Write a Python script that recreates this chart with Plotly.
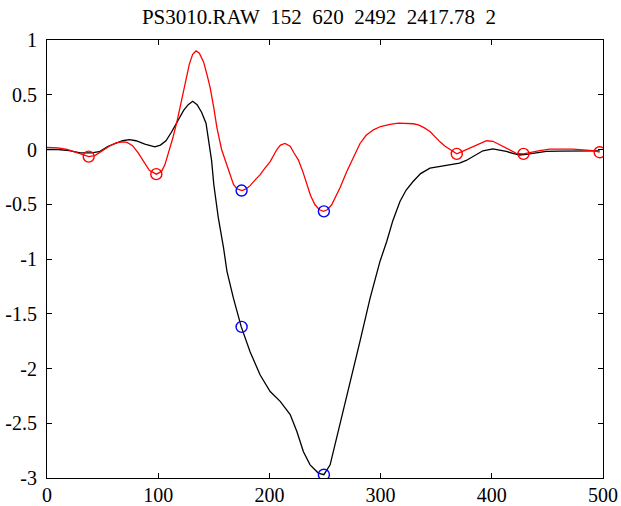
import plotly.graph_objects as go

# ---- data ----
black_x = [0, 10, 20, 30, 40, 47, 55, 62, 68, 74, 80, 88, 97, 102, 107, 112, 118, 123, 127, 131,
           135, 139, 143, 146, 148, 150, 154, 158.8, 161.8, 167.7, 174.7, 182.7, 191.7, 200.7,
           209.7, 218.7, 224.7, 230.6, 236.6, 244, 249, 254.6, 263.5, 272.5, 281.5, 290.5,
           299.5, 305.5, 311, 317.4, 323, 329.4, 336, 344.4, 353.4, 362, 371, 377, 383, 387,
           392, 401, 407, 413, 419, 425, 431, 437, 449, 461, 473, 485, 497]
black_y = [0, 0.0, -0.01, -0.03, -0.03, -0.02, 0.03, 0.06, 0.08, 0.09, 0.08, 0.05, 0.025, 0.04,
           0.08, 0.16, 0.27, 0.36, 0.41, 0.44, 0.41, 0.34, 0.24, 0.05, -0.10, -0.32, -0.62, -0.9,
           -1.11, -1.36, -1.62, -1.85, -2.06, -2.21, -2.30, -2.42, -2.575, -2.76, -2.88, -2.955,
           -2.97, -2.88, -2.51, -2.15, -1.75, -1.36, -1.02, -0.84, -0.65, -0.475, -0.37, -0.29,
           -0.22, -0.17, -0.155, -0.14, -0.125, -0.10, -0.064, -0.035, -0.012, 0.006, -0.005,
           -0.018, -0.035, -0.05, -0.045, -0.034, -0.018, -0.014, -0.012, -0.012, -0.012]

red_x = [0, 5, 10, 18, 25, 32, 37.5, 43, 50, 56, 62, 67.5, 72, 77, 82, 87, 92, 98.3, 103, 106,
         109.4, 113, 117, 121, 124.4, 128, 131, 134, 137, 140.8, 144, 146.8, 150, 152.8, 157,
         161.8, 167.7, 171, 175.3, 179, 182.7, 187, 191.7, 196, 200.7, 206.7, 210, 214, 218.7,
         222, 226, 230, 233.6, 237, 241, 245, 248.6, 252, 256, 259, 263.5, 269.6, 272.5, 277,
         281.5, 287, 293.5, 300, 308.5, 316, 323.5, 329.4, 334, 339, 344.4, 349, 353.4, 358,
         364, 368.5, 373, 377.3, 386, 395.3, 401, 407, 413, 418, 422, 428.5, 435, 443, 452,
         465, 473, 485, 491, 497]
red_y = [0.02, 0.02, 0.015, 0.0, -0.025, -0.05, -0.065, -0.055, -0.01, 0.03, 0.06, 0.07, 0.065,
         0.035, -0.03, -0.11, -0.19, -0.225, -0.2, -0.14, -0.03, 0.1, 0.26, 0.45, 0.62, 0.78,
         0.87, 0.9, 0.88, 0.80, 0.68, 0.56, 0.38, 0.2, 0.0, -0.14, -0.32, -0.36, -0.375, -0.36,
         -0.33, -0.28, -0.23, -0.17, -0.11, 0.0, 0.04, 0.055, 0.03, -0.03, -0.094, -0.2, -0.32,
         -0.42, -0.505, -0.55, -0.565, -0.55, -0.505, -0.44, -0.35, -0.2, -0.14, -0.04, 0.055,
         0.13, 0.18, 0.21, 0.23, 0.24, 0.24, 0.235, 0.225, 0.2, 0.164, 0.115, 0.07, 0.03, -0.012,
         -0.04, -0.02, 0.0, 0.04, 0.08, 0.075, 0.045, 0.012, -0.015, -0.035, -0.04, -0.025,
         -0.01, 0.003, 0.003, 0.003, -0.005, -0.01, -0.025]

red_mark_x = [37.5, 98.3, 368.5, 428.5, 497]
red_mark_y = [-0.065, -0.225, -0.04, -0.04, -0.025]
blue_mark_x = [175, 249, 175, 249]
blue_mark_y = [-0.375, -0.565, -1.62, -2.97]

title_text = "PS3010.RAW  152  620  2492  2417.78  2"
x_ticks = [0, 100, 200, 300, 400, 500]
y_ticks = [-3, -2.5, -2, -1.5, -1, -0.5, 0, 0.5, 1]
y_tick_labels = ["-3", "-2.5", "-2", "-1.5", "-1", "-0.5", "0", "0.5", "1"]

FONT = "Liberation Serif"

fig = go.Figure()
fig.add_trace(go.Scatter(x=black_x, y=black_y, mode="lines",
                         line=dict(color="black", width=1.3), hoverinfo="skip"))
fig.add_trace(go.Scatter(x=red_x, y=red_y, mode="lines",
                         line=dict(color="red", width=1.3), hoverinfo="skip"))
fig.add_trace(go.Scatter(x=red_mark_x, y=red_mark_y, mode="markers", hoverinfo="skip",
                         marker=dict(symbol="circle-open", size=11, color="red",
                                     line=dict(width=1.4, color="red"))))
fig.add_trace(go.Scatter(x=blue_mark_x, y=blue_mark_y, mode="markers", hoverinfo="skip",
                         marker=dict(symbol="circle-open", size=11, color="blue",
                                     line=dict(width=1.4, color="blue"))))

axis_common = dict(showgrid=False, zeroline=False, showline=True, linecolor="black",
                   linewidth=1, mirror="ticks", ticks="inside", ticklen=5, tickwidth=1,
                   tickcolor="black", automargin=False,
                   tickfont=dict(family=FONT, size=20, color="black"))

fig.update_layout(
    width=621, height=506,
    margin=dict(l=47, r=18, t=40, b=28),
    paper_bgcolor="white", plot_bgcolor="white",
    showlegend=False,
    title=dict(text=title_text.replace(" ", "\u00a0"), x=319 / 621, xanchor="center",
               xref="container", automargin=False,
               y=1 - 17 / 506, yanchor="middle", yref="container",
               font=dict(family=FONT, size=21, color="black")),
    xaxis=dict(range=[0, 500], tickvals=x_ticks, ticktext=[str(t) for t in x_ticks],
               ticklabelstandoff=-1, **axis_common),
    yaxis=dict(range=[-3, 1], tickvals=y_ticks, ticktext=y_tick_labels,
               ticklabelstandoff=5, **axis_common),
)

fig.write_html("out.html", config={"displayModeBar": False, "staticPlot": True},
               post_script="document.body.style.margin='0';document.body.style.overflow='hidden';")
